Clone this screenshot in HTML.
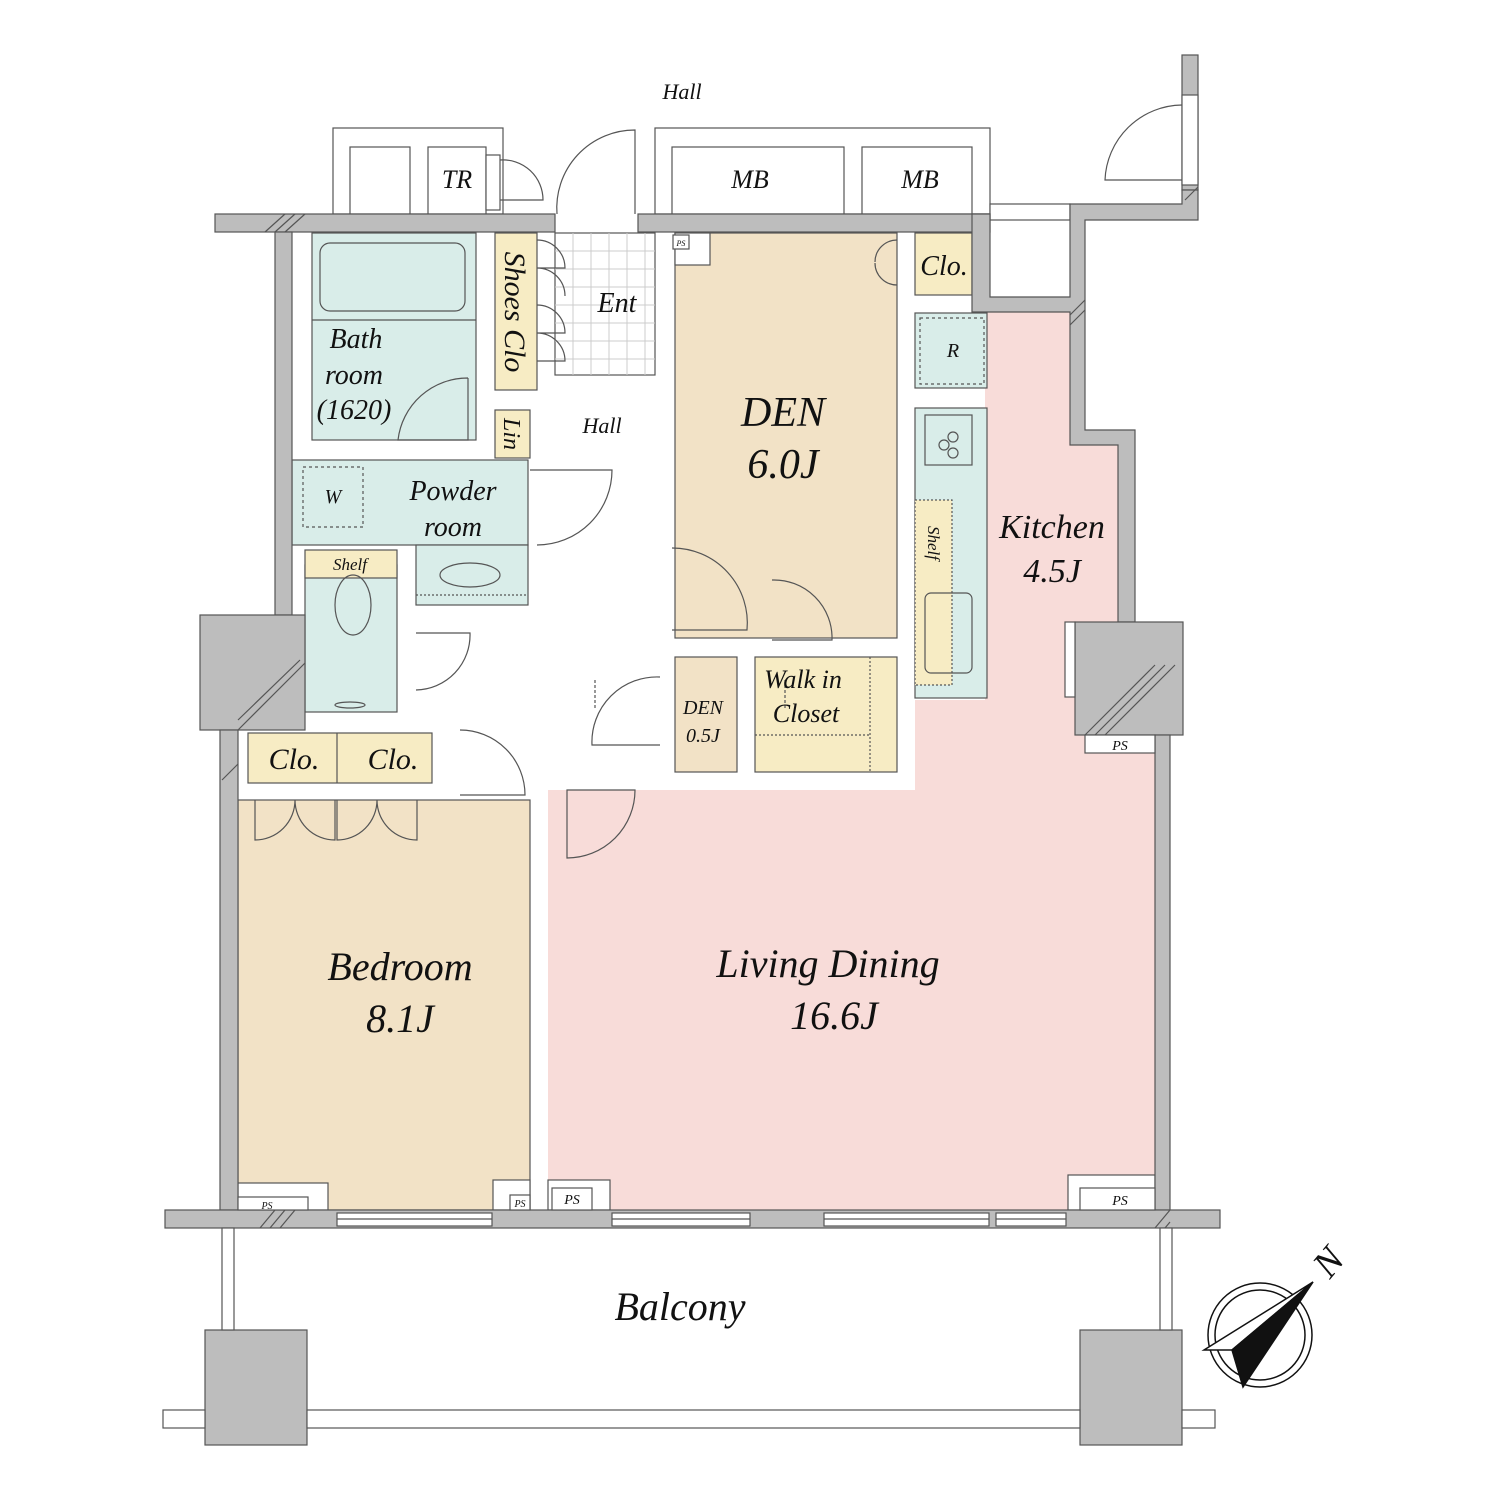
<!DOCTYPE html>
<html><head><meta charset="utf-8"><style>
html,body{margin:0;padding:0;background:#fff}
svg{display:block}
text{font-family:"Liberation Serif",serif;font-style:italic;fill:#111}
</style></head><body>
<svg width="1500" height="1500" viewBox="0 0 1500 1500" xmlns="http://www.w3.org/2000/svg">
<g stroke="#555" stroke-width="1.2">
<rect x="333" y="128" width="170" height="86" fill="#fff"/>
<rect x="350" y="147" width="60" height="67" fill="#fff"/>
<rect x="428" y="147" width="58" height="67" fill="#fff"/>
<rect x="486" y="155" width="14" height="55" fill="#fff"/>
<rect x="655" y="128" width="335" height="86" fill="#fff"/>
<rect x="672" y="147" width="172" height="67" fill="#fff"/>
<rect x="862" y="147" width="110" height="67" fill="#fff"/>
<rect x="990" y="204" width="80" height="16" fill="#fff"/>
<rect x="1182" y="55" width="16" height="135" fill="#bdbdbd"/>
<rect x="1182" y="95" width="16" height="90" fill="#fff"/>
<polygon points="985,312 1070,312 1070,430 1120,430 1120,622 1075,622 1075,735 1155,735 1155,1210 548,1210 548,790 915,790 915,700 985,700" fill="#f8dcd9" stroke="none"/>
<rect x="238" y="800" width="292" height="410" fill="#f2e2c6"/>
<rect x="238" y="1183" width="90" height="27" fill="#fff"/>
<rect x="493" y="1180" width="37" height="30" fill="#fff"/>
<rect x="548" y="1180" width="62" height="30" fill="#fff"/>
<rect x="1068" y="1175" width="87" height="35" fill="#fff"/>
<rect x="675" y="233" width="222" height="405" fill="#f2e2c6"/>
<rect x="675" y="233" width="35" height="32" fill="#fff"/>
<rect x="312" y="233" width="164" height="207" fill="#d9ede9"/>
<rect x="320" y="243" width="145" height="68" rx="10" fill="none"/>
<line x1="312" y1="320" x2="476" y2="320"/>
<rect x="292" y="460" width="236" height="85" fill="#d9ede9"/>
<rect x="416" y="545" width="112" height="60" fill="#d9ede9"/>
<line x1="416" y1="595" x2="528" y2="595" stroke-dasharray="2,2"/>
<ellipse cx="470" cy="575" rx="30" ry="12" fill="none"/>
<rect x="305" y="565" width="92" height="147" fill="#d9ede9"/>
<rect x="305" y="550" width="92" height="28" fill="#f7ecc4"/>
<ellipse cx="353" cy="605" rx="18" ry="30" fill="none"/>
<ellipse cx="350" cy="705" rx="15" ry="3" fill="none"/>
<rect x="303" y="467" width="60" height="60" fill="none" stroke-dasharray="3,3"/>
<rect x="495" y="233" width="42" height="157" fill="#f7ecc4"/>
<rect x="495" y="410" width="35" height="48" fill="#f7ecc4"/>
<rect x="915" y="233" width="57" height="62" fill="#f7ecc4"/>
<rect x="915" y="313" width="72" height="75" fill="#d9ede9"/>
<rect x="920" y="318" width="64" height="66" fill="none" stroke-dasharray="3,3"/>
<rect x="915" y="408" width="72" height="290" fill="#d9ede9"/>
<rect x="915" y="500" width="37" height="185" fill="#f7ecc4" stroke-dasharray="2,2"/>
<rect x="925" y="415" width="47" height="50" fill="none"/>
<rect x="925" y="593" width="47" height="80" rx="6" fill="none"/>
<circle cx="944" cy="445" r="5" fill="none"/><circle cx="953" cy="437" r="5" fill="none"/><circle cx="953" cy="453" r="5" fill="none"/>
<rect x="675" y="657" width="62" height="115" fill="#f2e2c6"/>
<rect x="755" y="657" width="142" height="115" fill="#f7ecc4"/>
<line x1="755" y1="735" x2="870" y2="735" stroke-dasharray="2,2"/>
<line x1="870" y1="657" x2="870" y2="772" stroke-dasharray="2,2"/>
<rect x="248" y="733" width="184" height="50" fill="#f7ecc4"/>
<line x1="337" y1="733" x2="337" y2="783"/>
<rect x="555" y="233" width="100" height="142" fill="#fff"/>
<path d="M555 251H655M555 269H655M555 287H655M555 305H655M555 323H655M555 341H655M555 359H655M573 233V375M591 233V375M609 233V375M627 233V375M645 233V375" stroke="#ccc" stroke-width="1"/>
<g fill="#bdbdbd">
<rect x="215" y="214" width="340" height="18"/>
<rect x="638" y="214" width="352" height="18"/>
<polygon points="972,214 990,214 990,297 1070,297 1070,204 1182,204 1182,190 1198,190 1198,220 1085,220 1085,430 1135,430 1135,622 1118,622 1118,445 1070,445 1070,312 972,312"/>
<rect x="275" y="232" width="17" height="383"/>
<rect x="200" y="615" width="105" height="115"/>
<rect x="220" y="730" width="18" height="480"/>
<rect x="1075" y="622" width="108" height="113"/>
<rect x="1155" y="735" width="15" height="475"/>
<rect x="165" y="1210" width="1055" height="18"/>
<rect x="205" y="1330" width="102" height="115"/>
<rect x="1080" y="1330" width="102" height="115"/>
</g>
<rect x="163" y="1410" width="42" height="18" fill="#fff"/>
<rect x="307" y="1410" width="773" height="18" fill="#fff"/>
<rect x="1182" y="1410" width="33" height="18" fill="#fff"/>
<rect x="222" y="1228" width="12" height="102" fill="#fff"/>
<rect x="1160" y="1228" width="12" height="102" fill="#fff"/>
<rect x="337" y="1213" width="155" height="13" fill="#fff"/>
<rect x="612" y="1213" width="138" height="13" fill="#fff"/>
<rect x="824" y="1213" width="165" height="13" fill="#fff"/>
<rect x="996" y="1213" width="70" height="13" fill="#fff"/>
<path d="M337 1219H492M612 1219H750M824 1219H989M996 1219H1066" />
<rect x="1085" y="735" width="70" height="18" fill="#fff"/>
<rect x="1080" y="1188" width="75" height="22" fill="#fff"/>
<rect x="552" y="1188" width="40" height="22" fill="#fff"/>
<rect x="510" y="1195" width="20" height="15" fill="#fff"/>
<rect x="238" y="1197" width="70" height="13" fill="#fff"/>
<rect x="673" y="235" width="16" height="14" fill="#fff"/>
<rect x="1065" y="622" width="10" height="75" fill="#fff"/>
<g fill="none">
<path d="M635 214V130A78 78 0 0 0 557 214"/>
<path d="M1182 105A78 78 0 0 0 1105 180H1182"/>
<path d="M500 160A40 40 0 0 1 543 200H500"/>
<path d="M468 378V440H398A70 70 0 0 1 468 378"/>
<path d="M530 470H612A75 75 0 0 1 537 545"/>
<path d="M416 633H470A55 55 0 0 1 416 690"/>
<path d="M672 548A75 75 0 0 1 747 630H672"/>
<path d="M772 580A58 58 0 0 1 832 640H772"/>
<path d="M660 677A65 65 0 0 0 592 745H660"/>
<path d="M460 730A65 65 0 0 1 525 795H460"/>
<path d="M567 790H635A68 68 0 0 1 567 858Z"/>
<path d="M255 800V840A40 40 0 0 0 295 800M335 800V840A40 40 0 0 1 295 800M337 800V840A40 40 0 0 0 377 800M417 800V840A40 40 0 0 1 377 800"/>
<path d="M537 240A28 28 0 0 1 565 268H537M537 268A28 28 0 0 1 565 296M537 305A28 28 0 0 1 565 333H537M537 333A28 28 0 0 1 565 361H537"/>
<path d="M897 240A22 22 0 0 0 875 262M897 285A22 22 0 0 1 875 263"/>
</g>
<path d="M595 680V710M785 680V710" stroke-dasharray="3,2"/>
</g>
<g stroke="#555" stroke-width="1.2">
<path d="M265 232L285 214M275 232L295 214M285 232L305 214"/>
<path d="M238 730L305 663M238 720L300 660M222 780L238 764"/>
<path d="M1085 735L1155 665M1095 735L1165 665M1105 735L1175 665"/>
<path d="M1070 325L1085 310M1070 315L1085 300M1185 200L1198 187"/>
<path d="M260 1228L275 1210M270 1228L285 1210M280 1228L295 1210M1155 1228L1170 1210M1165 1228L1170 1222"/>
</g>
<g text-anchor="middle">
<text x="682" y="99" font-size="22">Hall</text>
<text x="457" y="188" font-size="26">TR</text>
<text x="750" y="188" font-size="26">MB</text>
<text x="920" y="188" font-size="26">MB</text>
<text x="944" y="275" font-size="28">Clo.</text>
<text x="617" y="312" font-size="28">Ent</text>
<text x="356" y="348" font-size="28">Bath</text>
<text x="354" y="384" font-size="28">room</text>
<text x="354" y="419" font-size="28">(1620)</text>
<text x="602" y="433" font-size="22">Hall</text>
<text x="783" y="426" font-size="42">DEN</text>
<text x="783" y="478" font-size="42">6.0J</text>
<text x="953" y="357" font-size="20">R</text>
<text x="453" y="500" font-size="28">Powder</text>
<text x="453" y="536" font-size="28">room</text>
<text x="333" y="503" font-size="20">W</text>
<text x="350" y="570" font-size="17">Shelf</text>
<text x="1052" y="538" font-size="34">Kitchen</text>
<text x="1052" y="582" font-size="34">4.5J</text>
<text x="803" y="688" font-size="26">Walk in</text>
<text x="806" y="722" font-size="26">Closet</text>
<text x="703" y="714" font-size="20">DEN</text>
<text x="703" y="742" font-size="20">0.5J</text>
<text x="294" y="769" font-size="30">Clo.</text>
<text x="393" y="769" font-size="30">Clo.</text>
<text x="400" y="980" font-size="40">Bedroom</text>
<text x="400" y="1032" font-size="40">8.1J</text>
<text x="828" y="977" font-size="40">Living Dining</text>
<text x="834" y="1029" font-size="40">16.6J</text>
<text x="680" y="1320" font-size="40">Balcony</text>
<text x="1120" y="750" font-size="14">PS</text>
<text x="1120" y="1205" font-size="14">PS</text>
<text x="572" y="1204" font-size="14">PS</text>
<text x="520" y="1207" font-size="10">PS</text>
<text x="267" y="1209" font-size="10">PS</text>
<text x="681" y="246" font-size="8">PS</text>
<text transform="translate(505,312) rotate(90)" font-size="30">Shoes Clo</text>
<text transform="translate(504,434) rotate(90)" font-size="24">Lin</text>
<text transform="translate(928,543) rotate(90)" font-size="17">Shelf</text>
<text transform="translate(1338,1270) rotate(-50)" font-size="38" font-style="normal">N</text>
</g>
<g stroke="#111" stroke-width="1.5" fill="none">
<circle cx="1260" cy="1335" r="52"/>
<circle cx="1260" cy="1335" r="45"/>
<polygon points="1313,1282 1204,1350 1232,1350" fill="#fff"/>
<polygon points="1313,1282 1232,1350 1243,1387" fill="#111"/>
</g>
</svg>
</body></html>
